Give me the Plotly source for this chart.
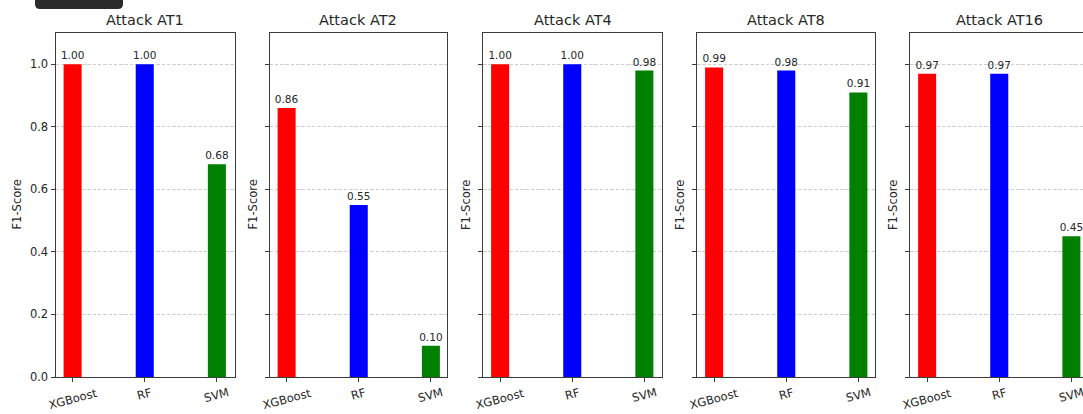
import plotly.graph_objects as go

# F1-scores per attack scenario and classifier
models = ["XGBoost", "RF", "SVM"]
attacks = ["Attack AT1", "Attack AT2", "Attack AT4", "Attack AT8", "Attack AT16"]
f1_at1 = [1.00, 1.00, 0.68]
f1_at2 = [0.86, 0.55, 0.10]
f1_at4 = [1.00, 1.00, 0.98]
f1_at8 = [0.99, 0.98, 0.91]
f1_at16 = [0.97, 0.97, 0.45]
scores = [f1_at1, f1_at2, f1_at4, f1_at8, f1_at16]
bar_colors = ["red", "blue", "green"]
y_ticks = [0.0, 0.2, 0.4, 0.6, 0.8, 1.0]

W, H = 1083, 414
FONT = "DejaVu Sans"
TXT = "#262626"
SPINE = "#3c3c3c"

# panel geometry in pixels (left, right); last panel runs off the page edge
panels_px = [(55.5, 234.5), (269.5, 447), (483, 662), (697, 875), (910, 1083)]
top_px, bot_px = 33, 377
unit_px = 178.5 / 2.475  # pixels per category step
x_lo = -0.2375

fig = go.Figure()
annotations = []

for i, (name, vals, (l, r)) in enumerate(zip(attacks, scores, panels_px)):
    n = i + 1
    xa = "x" if n == 1 else f"x{n}"
    ya = "y" if n == 1 else f"y{n}"
    fig.add_trace(go.Bar(
        x=models, y=vals, width=0.25,
        marker=dict(color=bar_colors, line=dict(width=0)),
        text=[f"{v:.2f}" for v in vals], textposition="outside",
        constraintext="none", cliponaxis=False,
        textfont=dict(family=FONT, size=10.5, color=TXT),
        xaxis=xa, yaxis=ya, showlegend=False,
    ))
    x_hi = x_lo + (r - l) / unit_px
    last = n == len(attacks)
    fig.layout[f"xaxis{'' if n == 1 else n}"] = dict(
        domain=[l / W, r / W], anchor=ya, type="category",
        categoryorder="array", categoryarray=models,
        range=[x_lo, x_hi], showticklabels=False, automargin=False,
        ticks="outside", ticklen=4, tickcolor=SPINE, tickwidth=1,
        showline=True, linecolor=SPINE, linewidth=1, mirror=True,
        showgrid=False, zeroline=False, fixedrange=True,
    )
    fig.layout[f"yaxis{'' if n == 1 else n}"] = dict(
        domain=[1 - bot_px / H, 1 - top_px / H], anchor=xa,
        range=[0, 1.1], tickvals=y_ticks, tickformat=".1f",
        showticklabels=(n == 1), automargin=False,
        tickfont=dict(family=FONT, size=11.5, color=TXT),
        ticks="outside", ticklen=4, tickcolor=SPINE, tickwidth=1,
        showline=True, linecolor=SPINE, linewidth=1,
        mirror=(not last),
        showgrid=True, gridcolor="#cfcfcf", griddash="3.5px,1.8px", gridwidth=1,
        zeroline=False, fixedrange=True,
    )
    # panel title
    annotations.append(dict(
        text=name, xref=f"{xa} domain", yref="paper",
        x=(178.5 / 2) / (r - l) if last else 0.5, y=1 - top_px / H,
        xanchor="center", yanchor="bottom", yshift=3, showarrow=False,
        font=dict(family=FONT, size=14.5, color=TXT),
    ))
    # y-axis label
    annotations.append(dict(
        text="F1-Score", xref=f"{xa} domain", yref=f"{ya} domain",
        x=0, y=0.5, xanchor="center", yanchor="middle",
        xshift=-39 if n == 1 else -17, textangle=-90, showarrow=False,
        font=dict(family=FONT, size=11.5, color=TXT),
    ))
    # rotated category labels
    for m in models:
        annotations.append(dict(
            text=m, xref=xa, yref=f"{ya} domain", x=m, y=0,
            xanchor="center", yanchor="top", yshift=-6, textangle=-15,
            showarrow=False, font=dict(family=FONT, size=11.5, color=TXT),
        ))

fig.update_layout(
    width=W, height=H, autosize=False,
    margin=dict(l=0, r=0, t=0, b=0, pad=0, autoexpand=False),
    paper_bgcolor="white", plot_bgcolor="white",
    annotations=annotations,
    shapes=[dict(
        type="path", xref="paper", yref="paper", layer="above",
        path=(f"M {35/W},{1} L {123/W},{1} L {123/W},{1-4/H} "
              f"Q {123/W},{1-9/H} {118/W},{1-9/H} L {40/W},{1-9/H} "
              f"Q {35/W},{1-9/H} {35/W},{1-4/H} Z"),
        fillcolor="#2b2b2b", line=dict(width=0),
    )],
)

fig.write_html("out.html")
